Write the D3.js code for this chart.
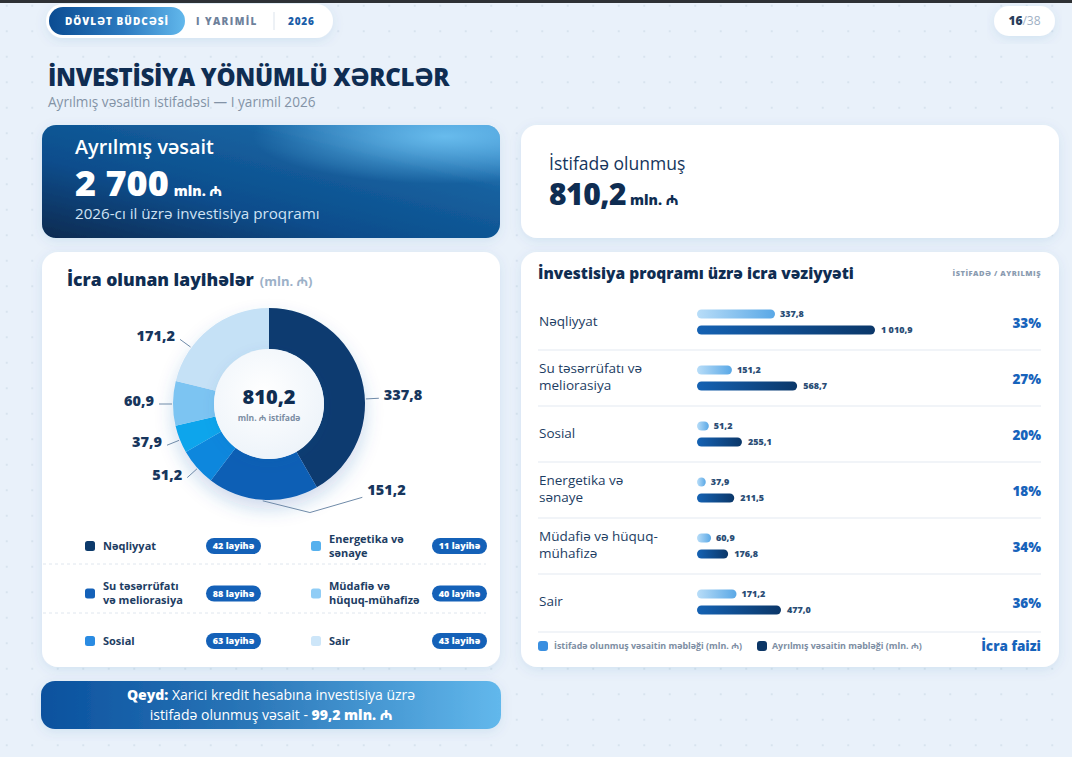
<!DOCTYPE html>
<html>
<head>
<meta charset="utf-8">
<script src="https://cdn.jsdelivr.net/npm/d3@7"></script>
<style>
  html, body { margin: 0; padding: 0; background: #e9f1fa; }
  svg { display: block; font-family: "Open Sans", "Noto Sans", "DejaVu Sans", sans-serif; }
</style>
</head>
<body>
<div id="chart"></div>
<script>
// ---- data ----
const sectors = ["Nəqliyyat", "Su təsərrüfatı və meliorasiya", "Sosial", "Energetika və sənaye", "Müdafiə və hüquq-mühafizə", "Sair"];
const usedValues = [337.8, 151.2, 51.2, 37.9, 60.9, 171.2];
const allocatedValues = [1010.9, 568.7, 255.1, 211.5, 176.8, 477.0];
const projectCounts = [42, 88, 63, 11, 40, 43];
const foreignCredit = 99.2;
const barLabelLines = [["Nəqliyyat"], ["Su təsərrüfatı və", "meliorasiya"], ["Sosial"], ["Energetika və", "sənaye"], ["Müdafiə və hüquq-", "mühafizə"], ["Sair"]];
const legendLabelLines = [["Nəqliyyat"], ["Su təsərrüfatı", "və meliorasiya"], ["Sosial"], ["Energetika və", "sənaye"], ["Müdafiə və", "hüquq-mühafizə"], ["Sair"]];

const donutColors = ["#0b3b70", "#0b5fb5", "#0a87dd", "#08a5ec", "#7cc4f2", "#c5e1f6"];
const legendColors = ["#0c3a6b", "#1461b8", "#2a8be2", "#56b1ee", "#90cdf6", "#cde6f9"];
// angle (deg, clockwise from top) where each donut label sits
const labelAngles = [87, 135, 228, 248, 270, 306];

const navy = "#0f2d52";
const loc = d3.formatLocale({ decimal: ",", thousands: " ", grouping: [3], currency: ["", ""] });
const fmt1 = loc.format(",.1f");
const fmt0 = loc.format(",.0f");
const pct = d3.format(".0%");

const totalUsed = d3.sum(usedValues);
const totalAllocated = d3.sum(allocatedValues);

const W = 1072, H = 757;
const svg = d3.select("#chart").append("svg").attr("width", W).attr("height", H);
const defs = svg.append("defs");

// dotted background
const dots = defs.append("pattern").attr("id", "dots").attr("patternUnits", "userSpaceOnUse")
  .attr("width", 25.5).attr("height", 25.5).attr("x", -6).attr("y", -7);
dots.append("circle").attr("cx", 12.75).attr("cy", 12.75).attr("r", 1.1).attr("fill", "#d4e0ec");

const shadow = defs.append("filter").attr("id", "shadow")
  .attr("x", "-10%").attr("y", "-15%").attr("width", "120%").attr("height", "140%");
shadow.append("feDropShadow").attr("dx", 0).attr("dy", 3).attr("stdDeviation", 6)
  .attr("flood-color", "#1d5a9c").attr("flood-opacity", 0.10);

const donutShadow = defs.append("filter").attr("id", "donutShadow")
  .attr("x", "-30%").attr("y", "-30%").attr("width", "160%").attr("height", "170%");
donutShadow.append("feDropShadow").attr("dx", 0).attr("dy", 9).attr("stdDeviation", 9)
  .attr("flood-color", "#1b5fae").attr("flood-opacity", 0.22);

function linGrad(id, stops, x1, y1, x2, y2) {
  const g = defs.append("linearGradient").attr("id", id)
    .attr("x1", x1).attr("y1", y1).attr("x2", x2).attr("y2", y2);
  stops.forEach(s => g.append("stop").attr("offset", s[0]).attr("stop-color", s[1]));
  return g;
}
linGrad("pillGrad", [["0%", "#0b4c92"], ["55%", "#2c7ac0"], ["100%", "#62b8ec"]], "0", "0", "1", "0");
linGrad("cardGrad", [["0%", "#072a50"], ["35%", "#0b4d8c"], ["70%", "#16619f"], ["100%", "#3c8fcf"]], "0", "1", "1", "0");
linGrad("noteGrad", [["0%", "#0a519e"], ["45%", "#2a76b8"], ["100%", "#62b8ec"]], "0", "0", "1", "0");
linGrad("usedGrad", [["0%", "#b8ddf8"], ["100%", "#5aa8e6"]], "0", "0", "1", "0");
linGrad("allocGrad", [["0%", "#1562b3"], ["100%", "#0b3769"]], "0", "0", "1", "0");
const glow = defs.append("radialGradient").attr("id", "cardGlow").attr("cx", "0.88").attr("cy", "0.1").attr("r", "0.42");
glow.append("stop").attr("offset", "0%").attr("stop-color", "#6ec2f2").attr("stop-opacity", 0.9);
glow.append("stop").attr("offset", "100%").attr("stop-color", "#6ec2f2").attr("stop-opacity", 0);
const discGrad = defs.append("radialGradient").attr("id", "discGrad").attr("cx", "0.45").attr("cy", "0.4").attr("r", "0.6");
discGrad.append("stop").attr("offset", "0%").attr("stop-color", "#ffffff");
discGrad.append("stop").attr("offset", "100%").attr("stop-color", "#eef4fa");

svg.append("rect").attr("width", W).attr("height", H).attr("fill", "#e9f1fa");
svg.append("rect").attr("width", W).attr("height", H).attr("fill", "url(#dots)");
svg.append("rect").attr("width", W).attr("height", 3).attr("fill", "#2e3135");

// ---- header ----
svg.append("rect").attr("x", 46).attr("y", 4).attr("width", 287).attr("height", 34).attr("rx", 17)
  .attr("fill", "#fff").attr("filter", "url(#shadow)");
svg.append("rect").attr("x", 49).attr("y", 7).attr("width", 136).attr("height", 28).attr("rx", 14)
  .attr("fill", "url(#pillGrad)");
svg.append("text").attr("x", 117).attr("y", 21).attr("dy", "0.35em").attr("text-anchor", "middle")
  .attr("fill", "#fff").attr("font-size", 10).attr("font-weight", 800).attr("letter-spacing", 1)
  .text("DÖVLƏT BÜDCƏSİ");
svg.append("text").attr("x", 196).attr("y", 21).attr("dy", "0.35em")
  .attr("fill", "#6e819b").attr("font-size", 10).attr("font-weight", 800).attr("letter-spacing", 1.4)
  .text("I YARIMİL");
svg.append("line").attr("x1", 274).attr("x2", 274).attr("y1", 12).attr("y2", 30).attr("stroke", "#dbe3ec");
svg.append("text").attr("x", 288).attr("y", 21).attr("dy", "0.35em")
  .attr("fill", "#1b5ea8").attr("font-size", 10).attr("font-weight", 800).attr("letter-spacing", 0.8)
  .text("2026");

svg.append("rect").attr("x", 994).attr("y", 6).attr("width", 61).attr("height", 30).attr("rx", 15)
  .attr("fill", "#fff").attr("filter", "url(#shadow)");
const pg = svg.append("text").attr("x", 1024.5).attr("y", 21).attr("dy", "0.35em").attr("text-anchor", "middle")
  .attr("font-size", 12);
pg.append("tspan").attr("font-weight", 800).attr("fill", "#2a3e5c").text("16");
pg.append("tspan").attr("fill", "#a0b0c4").text("/38");

svg.append("text").attr("x", 48).attr("y", 86).attr("fill", navy).attr("font-size", 24).attr("font-weight", 800)
  .attr("letter-spacing", -0.3).text("İNVESTİSİYA YÖNÜMLÜ XƏRCLƏR");
svg.append("text").attr("x", 48).attr("y", 107).attr("fill", "#8393a6").attr("font-size", 13.6)
  .text("Ayrılmış vəsaitin istifadəsi — I yarımil 2026");

// ---- summary cards ----
svg.append("rect").attr("x", 42).attr("y", 125).attr("width", 458).attr("height", 113).attr("rx", 14)
  .attr("fill", "url(#cardGrad)").attr("filter", "url(#shadow)");
svg.append("rect").attr("x", 42).attr("y", 125).attr("width", 458).attr("height", 113).attr("rx", 14)
  .attr("fill", "url(#cardGlow)");
svg.append("text").attr("x", 75).attr("y", 154).attr("fill", "#fff").attr("font-size", 19.8).attr("font-weight", 600)
  .text("Ayrılmış vəsait");
const big1 = svg.append("text").attr("x", 75).attr("y", 196).attr("fill", "#fff");
big1.append("tspan").attr("font-size", 36).attr("font-weight", 800).text(fmt0(totalAllocated));
big1.append("tspan").attr("font-size", 14).attr("font-weight", 800).attr("dx", 5).text("mln. ₼");
svg.append("text").attr("x", 75).attr("y", 219).attr("fill", "#cfe2f4").attr("font-size", 15.2)
  .text("2026-cı il üzrə investisiya proqramı");

svg.append("rect").attr("x", 521).attr("y", 125).attr("width", 538).attr("height", 113).attr("rx", 16)
  .attr("fill", "#fff").attr("filter", "url(#shadow)");
svg.append("text").attr("x", 549).attr("y", 170).attr("fill", "#15355c").attr("font-size", 17.5).attr("font-weight", 500)
  .text("İstifadə olunmuş");
const big2 = svg.append("text").attr("x", 549).attr("y", 205).attr("fill", navy);
big2.append("tspan").attr("font-size", 30).attr("font-weight", 800).attr("letter-spacing", -0.5).text(fmt1(totalUsed));
big2.append("tspan").attr("font-size", 14).attr("font-weight", 800).attr("dx", 4).text("mln. ₼");

// ---- left panel: donut ----
svg.append("rect").attr("x", 42).attr("y", 252).attr("width", 458).attr("height", 415).attr("rx", 16)
  .attr("fill", "#fff").attr("filter", "url(#shadow)");
const t1 = svg.append("text").attr("x", 67).attr("y", 286).attr("fill", navy);
t1.append("tspan").attr("font-size", 17.5).attr("font-weight", 800).text("İcra olunan layihələr");
t1.append("tspan").attr("font-size", 13).attr("font-weight", 700).attr("fill", "#9cb1c8").attr("dx", 6).text("(mln. ₼)");

const cx = 269, cy = 404, rOut = 96, rIn = 55;
const pie = d3.pie().sort(null).value(d => d)(usedValues);
const arc = d3.arc().innerRadius(rIn).outerRadius(rOut);
const donut = svg.append("g").attr("transform", `translate(${cx},${cy})`);
donut.append("g").attr("filter", "url(#donutShadow)")
  .selectAll("path").data(pie).join("path")
  .attr("d", arc).attr("fill", (d, i) => donutColors[i]);
donut.append("circle").attr("r", rIn).attr("fill", "url(#discGrad)")
  .attr("filter", "url(#shadow)");
donut.append("text").attr("y", -7).attr("text-anchor", "middle").attr("dy", "0.35em")
  .attr("fill", navy).attr("font-size", 20).attr("font-weight", 800).text(fmt1(totalUsed));
donut.append("text").attr("y", 14).attr("text-anchor", "middle").attr("dy", "0.35em")
  .attr("fill", "#7b8da3").attr("font-size", 8.5).attr("font-weight", 700).text("mln. ₼ istifadə");

const polar = (deg, r) => {
  const a = deg * Math.PI / 180;
  return [r * Math.sin(a), -r * Math.cos(a)];
};
pie.forEach((d, i) => {
  const deg = labelAngles[i];
  const a = deg * Math.PI / 180;
  const inside = a >= d.startAngle && a <= d.endAngle;
  let pts;
  if (inside) {
    pts = [polar(deg, rOut + 1), polar(deg, rOut + 14)];
  } else {
    const mid = (d.startAngle + d.endAngle) / 2 * 180 / Math.PI;
    pts = [polar(mid, rOut + 1), polar((mid + deg) / 2, rOut + 20), polar(deg, rOut + 36)];
  }
  const end = pts[pts.length - 1];
  donut.append("path").attr("d", d3.line()(pts)).attr("fill", "none")
    .attr("stroke", "#6f8aa8").attr("stroke-width", 1);
  const right = end[0] > 0;
  donut.append("text").attr("x", end[0] + (right ? 5 : -5)).attr("y", end[1] - (inside ? 3 : 7))
    .attr("dy", "0.35em").attr("text-anchor", right ? "start" : "end")
    .attr("fill", "#17365d").attr("font-size", 14.5).attr("font-weight", 800)
    .text(fmt1(usedValues[i]));
});

// legend
const legRow = d3.scalePoint().domain([0, 1, 2]).range([546, 641]);
const legCol = d3.scalePoint().domain([0, 1]).range([90, 316]);
[[43, 261], [268, 486]].forEach(span => {
  [564, 613].forEach(yy => {
    svg.append("line").attr("x1", span[0]).attr("x2", span[1]).attr("y1", yy).attr("y2", yy)
      .attr("stroke", "#dfe6ee").attr("stroke-dasharray", "3,3");
  });
});
const leg = svg.append("g").selectAll("g").data(sectors).join("g")
  .attr("transform", (d, i) => `translate(${legCol(Math.floor(i / 3))},${legRow(i % 3)})`);
leg.append("rect").attr("x", -5).attr("y", -5).attr("width", 10).attr("height", 10).attr("rx", 2.5)
  .attr("fill", (d, i) => legendColors[i]);
leg.append("text").attr("x", 13).attr("fill", "#1d3d63").attr("font-size", 11).attr("font-weight", 700)
  .each(function (d, i) {
    const lines = legendLabelLines[i];
    lines.forEach((l, k) => {
      d3.select(this).append("tspan").attr("x", 13)
        .attr("y", (k - (lines.length - 1) / 2) * 14).attr("dy", "0.35em").text(l);
    });
  });
leg.append("rect").attr("x", 116).attr("y", -8).attr("width", 55).attr("height", 16).attr("rx", 8)
  .attr("fill", "#1461b8");
leg.append("text").attr("x", 143.5).attr("dy", "0.35em").attr("text-anchor", "middle")
  .attr("fill", "#fff").attr("font-size", 9).attr("font-weight", 800)
  .text((d, i) => `${projectCounts[i]} layihə`);

// note
svg.append("rect").attr("x", 41).attr("y", 681).attr("width", 460).attr("height", 48).attr("rx", 14)
  .attr("fill", "url(#noteGrad)").attr("filter", "url(#shadow)");
const n1 = svg.append("text").attr("x", 271).attr("y", 695).attr("dy", "0.35em").attr("text-anchor", "middle")
  .attr("fill", "#fff").attr("font-size", 14);
n1.append("tspan").attr("font-weight", 800).text("Qeyd:");
n1.append("tspan").text(" Xarici kredit hesabına investisiya üzrə");
const n2 = svg.append("text").attr("x", 271).attr("y", 715).attr("dy", "0.35em").attr("text-anchor", "middle")
  .attr("fill", "#fff").attr("font-size", 14);
n2.append("tspan").text("istifadə olunmuş vəsait - ");
n2.append("tspan").attr("font-weight", 800).text(`${fmt1(foreignCredit)} mln. ₼`);

// ---- right panel: bars ----
svg.append("rect").attr("x", 521).attr("y", 252).attr("width", 538).attr("height", 415).attr("rx", 16)
  .attr("fill", "#fff").attr("filter", "url(#shadow)");
svg.append("text").attr("x", 538).attr("y", 279).attr("fill", navy).attr("font-size", 15.5).attr("font-weight", 800)
  .text("İnvestisiya proqramı üzrə icra vəziyyəti");
svg.append("text").attr("x", 1041).attr("y", 276).attr("text-anchor", "end").attr("fill", "#8a9bb0")
  .attr("font-size", 7.5).attr("font-weight", 800).attr("letter-spacing", 0.5).text("İSTİFADƏ / AYRILMIŞ");

const y = d3.scaleBand().domain(sectors).range([294, 630]);
const xAlloc = d3.scaleLinear().domain([0, d3.max(allocatedValues)]).range([0, 178]);
const xUsed = d3.scaleLinear().domain([0, d3.max(usedValues)]).range([0, 78]);
const x0 = 697, barH = 9;

sectors.slice(0, -1).forEach(s => {
  const yy = y(s) + y.bandwidth();
  svg.append("line").attr("x1", 538).attr("x2", 1041).attr("y1", yy).attr("y2", yy)
    .attr("stroke", "#edf1f6").attr("stroke-width", 1.5);
});
svg.append("line").attr("x1", 538).attr("x2", 1041).attr("y1", 632).attr("y2", 632)
  .attr("stroke", "#edf1f6").attr("stroke-width", 1.5);

const rows = svg.append("g").selectAll("g").data(sectors).join("g")
  .attr("transform", d => `translate(0,${y(d) + y.bandwidth() / 2})`);

rows.append("text").attr("fill", "#1d3d63").attr("font-size", 13.5).attr("font-weight", 500)
  .each(function (d, i) {
    const lines = barLabelLines[i];
    lines.forEach((l, k) => {
      d3.select(this).append("tspan").attr("x", 539)
        .attr("y", (k - (lines.length - 1) / 2) * 17 - 1).attr("dy", "0.35em").text(l);
    });
  });

rows.append("rect").attr("x", x0).attr("y", -8 - barH / 2).attr("height", barH).attr("rx", barH / 2)
  .attr("width", (d, i) => Math.max(6, xUsed(usedValues[i]))).attr("fill", "url(#usedGrad)");
rows.append("text").attr("x", (d, i) => x0 + Math.max(6, xUsed(usedValues[i])) + 5).attr("y", -8)
  .attr("dy", "0.35em").attr("fill", "#2a4d75").attr("font-size", 9).attr("font-weight", 800)
  .text((d, i) => fmt1(usedValues[i]));
rows.append("rect").attr("x", x0).attr("y", 8 - barH / 2).attr("height", barH).attr("rx", barH / 2)
  .attr("width", (d, i) => xAlloc(allocatedValues[i])).attr("fill", "url(#allocGrad)");
rows.append("text").attr("x", (d, i) => x0 + xAlloc(allocatedValues[i]) + 6).attr("y", 8)
  .attr("dy", "0.35em").attr("fill", "#2a4d75").attr("font-size", 9).attr("font-weight", 800)
  .text((d, i) => fmt1(allocatedValues[i]));
rows.append("text").attr("x", 1041).attr("y", 1).attr("dy", "0.35em").attr("text-anchor", "end")
  .attr("fill", "#1763bb").attr("font-size", 13.5).attr("font-weight", 800)
  .text((d, i) => pct(Math.round(usedValues[i] / allocatedValues[i] * 100) / 100));

// footer legend
const fl = svg.append("g").attr("transform", "translate(0,646)");
fl.append("rect").attr("x", 538).attr("y", -5).attr("width", 10).attr("height", 10).attr("rx", 3).attr("fill", "#3a8fe0");
fl.append("text").attr("x", 554).attr("dy", "0.35em").attr("fill", "#7d8ea3").attr("font-size", 8.9).attr("font-weight", 700)
  .text("İstifadə olunmuş vəsaitin məbləği (mln. ₼)");
fl.append("rect").attr("x", 757).attr("y", -5).attr("width", 10).attr("height", 10).attr("rx", 3).attr("fill", "#0c3666");
fl.append("text").attr("x", 772).attr("dy", "0.35em").attr("fill", "#7d8ea3").attr("font-size", 8.9).attr("font-weight", 700)
  .text("Ayrılmış vəsaitin məbləği (mln. ₼)");
fl.append("text").attr("x", 1041).attr("dy", "0.35em").attr("text-anchor", "end").attr("fill", "#1763bb")
  .attr("font-size", 13.5).attr("font-weight", 800).text("İcra faizi");
</script>
</body>
</html>
